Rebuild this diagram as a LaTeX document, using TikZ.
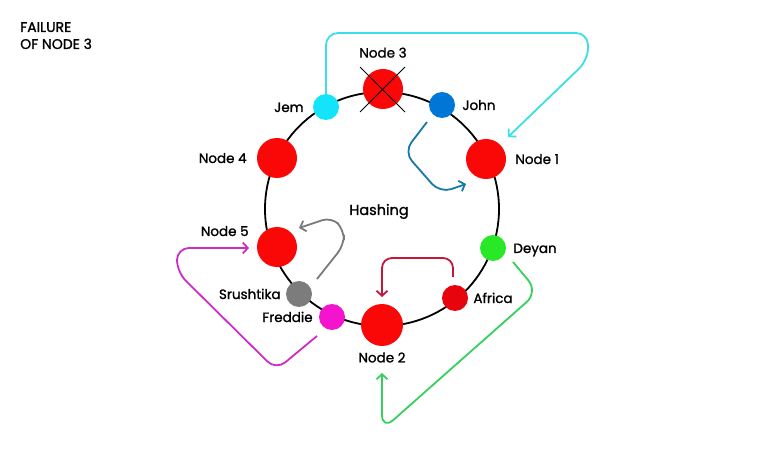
\documentclass[tikz,border=0pt]{standalone}
\usepackage{fontspec}
\setmainfont{Poppins}[FakeBold=1.2]
\usetikzlibrary{arrows.meta,positioning}
\definecolor{srvred}{RGB}{250,8,8}
\definecolor{jemfill}{RGB}{20,228,250}
\definecolor{johnfill}{RGB}{0,118,214}
\definecolor{srufill}{RGB}{124,124,124}
\definecolor{fredfill}{RGB}{245,20,205}
\definecolor{deyfill}{RGB}{40,232,40}
\definecolor{afrfill}{RGB}{232,4,12}
\definecolor{jemline}{RGB}{60,222,232}
\definecolor{johnline}{RGB}{22,122,168}
\definecolor{sruline}{RGB}{122,122,122}
\definecolor{fredline}{RGB}{205,45,195}
\definecolor{deyline}{RGB}{55,208,95}
\definecolor{afrline}{RGB}{196,22,58}

\begin{document}
\begin{tikzpicture}[x=1pt,y=-1pt,
  srv/.style={circle,fill=srvred,minimum size=40pt,inner sep=0pt},
  key/.style={circle,minimum size=26pt,inner sep=0pt},
  lbl/.style={font=\fontsize{13.5}{16}\selectfont,inner sep=0pt,text height=10pt,text depth=0pt},
  move/.style={-{Straight Barb[length=5pt,width=11pt]},line width=1.8pt,rounded corners=12pt}]
\useasboundingbox (0,0) rectangle (760,454);
\draw[line width=1.8pt] (382,209) circle[radius=117];
% servers on the ring
\node[srv] (n3) at (383,89) {};
\node[srv] (n1) at (486,159) {};
\node[srv] (n4) at (277,158) {};
\node[srv] (n5) at (277,247) {};
\node[srv,minimum size=42pt] (n2) at (382,325) {};
% keys on the ring
\node[key,fill=jemfill] (jem) at (326,107) {};
\node[key,fill=johnfill] (john) at (442,105) {};
\node[key,fill=deyfill] (dey) at (493,248) {};
\node[key,fill=afrfill] (afr) at (455,298) {};
\node[key,fill=fredfill] (fred) at (332,317) {};
\node[key,fill=srufill] (sru) at (299,294) {};
% node 3 is down
\draw[line width=1pt] ([shift={(-23,-22)}]n3.center) -- ([shift={(22,23)}]n3.center);
\draw[line width=1pt] ([shift={(22,-22)}]n3.center) -- ([shift={(-23,23)}]n3.center);
% labels
\node[lbl,above=11pt of n3] (n3txt) {Node 3};
\node[lbl,right=9pt of n1] (n1txt) {Node 1};
\node[lbl,left=10pt of n4] (n4txt) {Node 4};
\node[lbl,left=8pt of n5,yshift=16pt] (n5txt) {Node 5};
\node[lbl,below=6pt of n2] (n2txt) {Node 2};
\node[lbl,left=9pt of jem] (jemtxt) {Jem};
\node[lbl,right=7pt of john] (johntxt) {John};
\node[lbl,right=7pt of dey] (deytxt) {Deyan};
\node[lbl,right=5pt of afr] (afrtxt) {Africa};
\node[lbl,left=6pt of fred] (fredtxt) {Freddie};
\node[lbl,left=5pt of sru] (srutxt) {Srushtika};
\node[lbl,font=\fontsize{14.5}{16}\selectfont] (hash) at (379,210) {Hashing};
\node[font=\fontsize{14}{17}\selectfont,inner sep=0pt,anchor=north west,align=left] (title) at (20,22) {FAILURE\\OF NODE 3};
% keys moving to the next server
\draw[move,jemline] (jem.north) -- (326,33) -- (588,33) -- (588,60) -- ([shift={(22,-22)}]n1.center);
\draw[move,johnline] ([shift={(-15,17)}]john.center) -- (404,152) -- (440,193) -- ([shift={(-20,25)}]n1.center);
\draw[move,sruline,rounded corners=10pt] ([shift={(18,-15)}]sru.center) -- (344,245) -- (344,230) -- (332,217) -- ([shift={(22,-19)}]n5.center);
\draw[move,fredline] ([shift={(-15,19)}]fred.center) -- (276,370) -- (177,272) -- (177,248) -- ([shift={(-28,1)}]n5.center);
\draw[move,afrline,rounded corners=10pt] ([shift={(-2,-21)}]afr.center) -- (453,258) -- (382,258) -- ([shift={(0,-28)}]n2.center);
\draw[move,deyline,rounded corners=15pt] ([shift={(20,14)}]dey.center) -- (538,292) -- (382,430) -- ([shift={(0,48)}]n2.center);
\end{tikzpicture}
\end{document}
